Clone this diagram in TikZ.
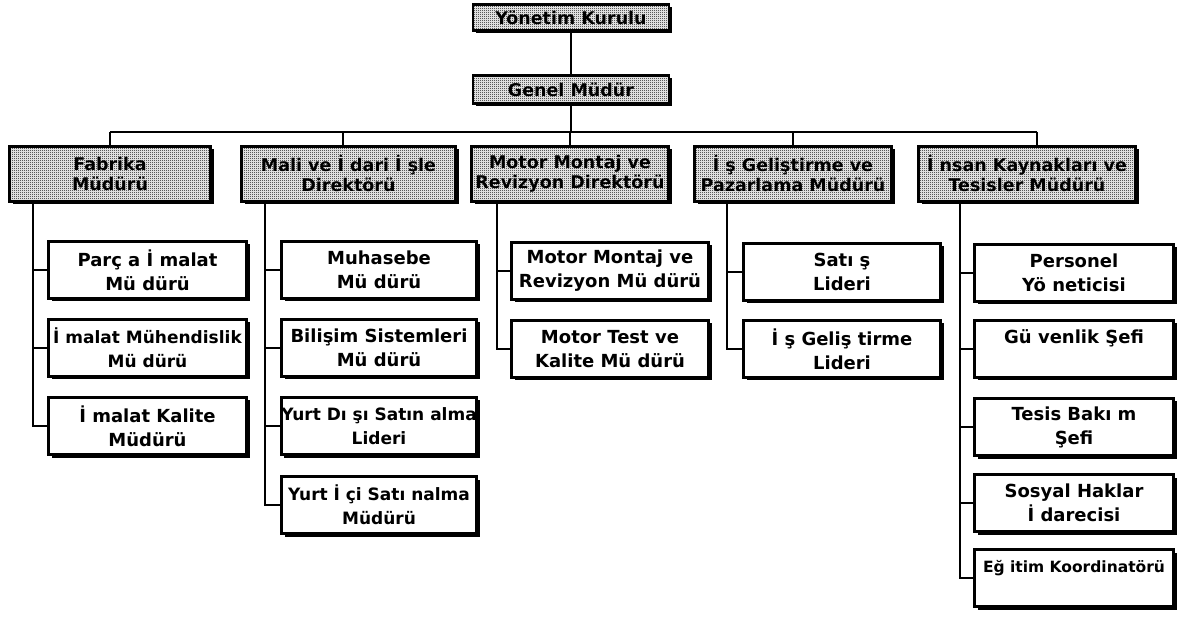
\documentclass[tikz,border=0pt]{standalone}
\usepackage{fontspec}
\setmainfont{DejaVu Sans}
\usetikzlibrary{shadows,patterns}
\pgfdeclarepatternformonly{checker}{\pgfpointorigin}{\pgfpoint{2pt}{2pt}}{\pgfpoint{2pt}{2pt}}{%
  \pgfpathrectangle{\pgfpointorigin}{\pgfpoint{1pt}{1pt}}%
  \pgfpathrectangle{\pgfpoint{1pt}{1pt}}{\pgfpoint{1pt}{1pt}}%
  \pgfusepath{fill}}
\tikzset{
  box/.style={draw, line width=2.6pt, fill=white, inner sep=0pt, align=center,
    drop shadow={fill=black, opacity=1, shadow xshift=3pt, shadow yshift=-3pt},
    font=\bfseries\fontsize{18}{24}\selectfont},
  hdr/.style={box, preaction={fill=white}, pattern=checker, pattern color=black,
    font=\bfseries\fontsize{17.5}{20}\selectfont},
  subbox/.style={box, minimum height=57pt},
  small/.style={font=\bfseries\fontsize{17}{24}\selectfont},
  w/.style={minimum width=#1}
}
\tikzset{conn/.style={line width=1.1pt}}
\begin{document}
\begin{tikzpicture}[x=1pt,y=-1pt]
\useasboundingbox (0,0) rectangle (1189,617);
% top
\node[hdr, w=196pt, minimum height=26pt] (yk) at (571,17.5) {Yönetim Kurulu};
\node[hdr, w=196pt, minimum height=28pt] (gm) at (571,89.5) {Genel Müdür};
% headers
\node[hdr, w=201pt, minimum height=55pt] (fab) at (110,174) {Fabrika\\Müdürü};
\node[hdr, w=214pt, minimum height=55pt] (mali) at (348.5,174) {Mali ve İ dari İ şle\\Direktörü};
\node[hdr, w=197pt, minimum height=55pt] (motor) at (570,174) {Motor Montaj ve\\Revizyon Direktörü};
\node[hdr, w=197pt, minimum height=55pt] (isg) at (793,174) {İ ş Geliştirme ve\\Pazarlama Müdürü};
\node[hdr, w=217pt, minimum height=55pt] (insan) at (1027,174) {İ nsan Kaynakları  ve\\Tesisler Müdürü};
% column 1
\node[subbox, w=198pt] (a1) at (147.5,270) {Parç a İ malat\\Mü dürü};
\node[subbox, w=198pt, small] (a2) at (147.5,348) {İ malat Mühendislik\\Mü dürü};
\node[subbox, w=198pt] (a3) at (147.5,426) {İ malat Kalite\\Müdürü};
% column 2
\node[subbox, w=195pt] (b1) at (379,270) {Muhasebe\\Mü dürü};
\node[subbox, w=195pt] (b2) at (379,348) {Bilişim Sistemleri\\Mü dürü};
\node[subbox, w=195pt, small] (b3) at (379,426) {Yurt Dı şı Satın alma\\Lideri};
\node[subbox, w=195pt, small] (b4) at (379,505) {Yurt İ çi Satı nalma\\Müdürü};
% column 3
\node[subbox, w=197pt] (c1) at (610,271) {Motor Montaj ve\\Revizyon Mü dürü};
\node[subbox, w=197pt] (c2) at (610,349) {Motor Test ve\\Kalite Mü dürü};
% column 4
\node[subbox, w=197pt] (e1) at (842,272) {Satı ş\\Lideri};
\node[subbox, w=197pt] (e2) at (842,349) {İ ş Geliş tirme\\Lideri};
% column 5
\node[subbox, w=199pt] (f1) at (1074,273) {Personel\\Yö neticisi};
\node[subbox, w=199pt] (f2) at (1074,349) {Gü venlik Şefi\\\mbox{}};
\node[subbox, w=199pt] (f3) at (1074,427) {Tesis Bakı m\\Şefi};
\node[subbox, w=199pt] (f4) at (1074,503) {Sosyal Haklar\\İ darecisi};
\node[subbox, w=199pt, font=\bfseries\fontsize{15.5}{24}\selectfont] (f5) at (1074,578) {Eğ itim Koordinatörü\\\mbox{}};
% bus coordinates
\coordinate (d1) at (110,132);
\coordinate (d2) at (343,132);
\coordinate (d3) at (570,132);
\coordinate (d4) at (793,132);
\coordinate (d5) at (1037,132);
\coordinate (x1) at (33,0);
\coordinate (x2) at (265,0);
\coordinate (x3) at (497,0);
\coordinate (x4) at (727,0);
\coordinate (x5) at (960,0);
% connectors
\draw[conn] (yk.south) -- (gm.north);
\draw[conn] (gm.south) -- (gm.south |- d1);
\draw[conn] (d1) -- (d5);
\draw[conn] (d1) -- (d1 |- fab.north);
\draw[conn] (d2) -- (d2 |- mali.north);
\draw[conn] (d3) -- (d3 |- motor.north);
\draw[conn] (d4) -- (d4 |- isg.north);
\draw[conn] (d5) -- (d5 |- insan.north);
% column 1
\draw[conn] (x1 |- fab.south) |- (a3.west);
\draw[conn] (a1.west) -- (a1.west -| x1);
\draw[conn] (a2.west) -- (a2.west -| x1);
% column 2
\draw[conn] (x2 |- mali.south) |- (b4.west);
\draw[conn] (b1.west) -- (b1.west -| x2);
\draw[conn] (b2.west) -- (b2.west -| x2);
\draw[conn] (b3.west) -- (b3.west -| x2);
% column 3
\draw[conn] (x3 |- motor.south) |- (c2.west);
\draw[conn] (c1.west) -- (c1.west -| x3);
% column 4
\draw[conn] (x4 |- isg.south) |- (e2.west);
\draw[conn] (e1.west) -- (e1.west -| x4);
% column 5
\draw[conn] (x5 |- insan.south) |- (f5.west);
\draw[conn] (f1.west) -- (f1.west -| x5);
\draw[conn] (f2.west) -- (f2.west -| x5);
\draw[conn] (f3.west) -- (f3.west -| x5);
\draw[conn] (f4.west) -- (f4.west -| x5);
\end{tikzpicture}
\end{document}
